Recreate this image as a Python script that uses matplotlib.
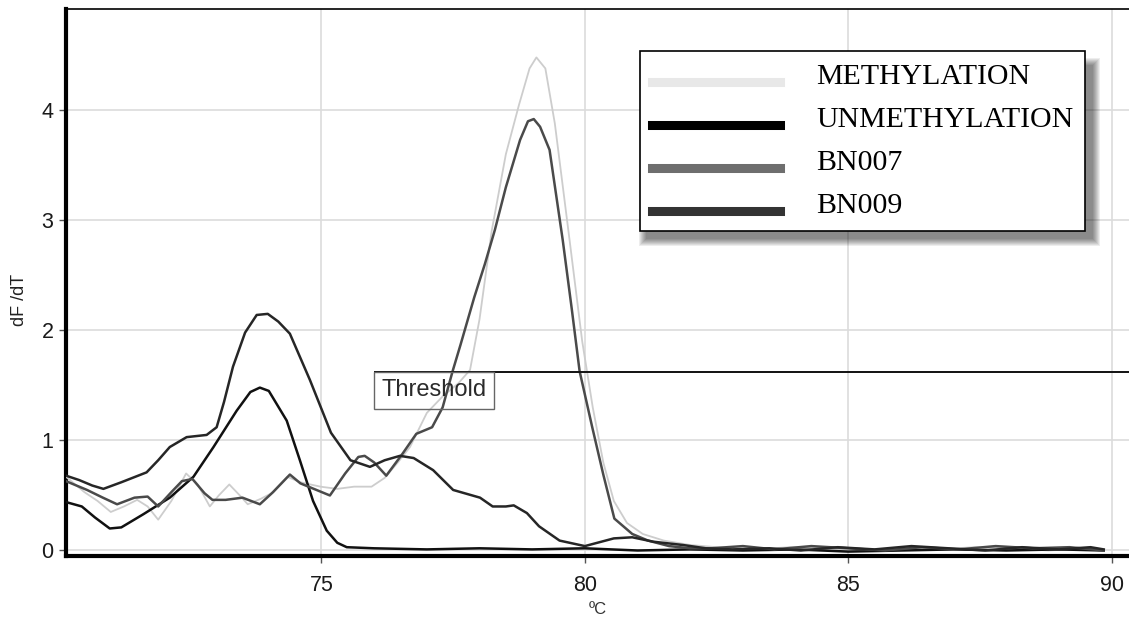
import matplotlib
matplotlib.use("Agg")
import matplotlib.pyplot as plt
from matplotlib.patches import Rectangle

plt.rcParams['font.family'] = ['Liberation Sans', 'DejaVu Sans']

# melt curves, temperature in deg C vs dF/dT
meth_t = [70.15, 70.5, 70.75, 71.0, 71.25, 71.5, 71.7, 71.9, 72.15, 72.43, 72.65, 72.88,
          73.05, 73.25, 73.45, 73.6, 73.85, 74.05, 74.35, 74.6, 74.98, 75.3, 75.62, 75.95,
          76.2, 76.45, 76.68, 77.0, 77.3, 77.6, 77.82, 78.0, 78.23, 78.5, 78.75, 78.95,
          79.08, 79.25, 79.43, 79.71, 79.95, 80.15, 80.35, 80.55, 80.8, 81.1, 81.5, 82.0,
          82.5, 83.2, 83.9, 84.6, 85.3, 86.0, 86.7, 87.4, 88.1, 88.8, 89.5, 89.85]
meth_v = [0.67, 0.53, 0.45, 0.35, 0.40, 0.46, 0.40, 0.28, 0.45, 0.70, 0.60, 0.40,
          0.50, 0.60, 0.50, 0.42, 0.47, 0.52, 0.67, 0.62, 0.58, 0.56, 0.58, 0.58,
          0.66, 0.80, 0.94, 1.25, 1.40, 1.52, 1.64, 2.10, 2.90, 3.60, 4.05, 4.38,
          4.48, 4.38, 3.88, 2.82, 1.90, 1.30, 0.80, 0.45, 0.25, 0.15, 0.09, 0.05,
          0.03, 0.01, 0.03, 0.02, 0.00, 0.02, 0.01, 0.03, 0.02, 0.00, 0.02, 0.01]

unmeth_t = [70.15, 70.45, 70.7, 70.98, 71.2, 71.62, 72.12, 72.57, 72.95, 73.39, 73.65,
            73.83, 74.0, 74.34, 74.59, 74.84, 75.1, 75.3, 75.48, 76.0, 77.0, 78.0, 79.0,
            80.0, 81.0, 82.0, 83.0, 84.0, 85.0, 86.0, 87.0, 88.0, 89.0, 89.85]
unmeth_v = [0.44, 0.40, 0.30, 0.20, 0.21, 0.33, 0.48, 0.67, 0.94, 1.27, 1.44,
            1.48, 1.45, 1.18, 0.82, 0.45, 0.18, 0.07, 0.03, 0.02, 0.01, 0.02, 0.01,
            0.02, 0.00, 0.01, 0.00, 0.01, -0.01, 0.00, 0.01, 0.00, 0.01, 0.00]

bn007_t = [70.15, 70.55, 70.85, 71.12, 71.45, 71.7, 71.9, 72.15, 72.35, 72.55, 72.78, 72.93,
           73.18, 73.5, 73.83, 74.08, 74.4, 74.6, 75.16, 75.45, 75.7, 75.82, 76.0, 76.23,
           76.54, 76.8, 77.1, 77.3, 77.49, 77.64, 77.9, 78.1, 78.29, 78.5, 78.77, 78.92,
           79.03, 79.15, 79.33, 79.58, 79.75, 79.9, 80.14, 80.35, 80.56, 80.9, 81.2, 81.6,
           82.0, 82.4, 83.0, 83.6, 84.3, 85.0, 85.7, 86.4, 87.1, 87.8, 88.5, 89.2, 89.85]
bn007_v = [0.63, 0.55, 0.48, 0.42, 0.48, 0.49, 0.40, 0.53, 0.63, 0.65, 0.52, 0.46,
           0.46, 0.48, 0.42, 0.53, 0.69, 0.61, 0.50, 0.70, 0.85, 0.86, 0.80, 0.68,
           0.88, 1.06, 1.12, 1.30, 1.63, 1.87, 2.30, 2.60, 2.91, 3.30, 3.73, 3.90,
           3.92, 3.85, 3.64, 2.82, 2.20, 1.63, 1.12, 0.69, 0.29, 0.15, 0.09, 0.04,
           0.02, 0.02, 0.04, 0.01, 0.04, 0.02, 0.00, 0.03, 0.01, 0.04, 0.02, 0.03, 0.00]

bn009_t = [70.15, 70.4, 70.65, 70.86, 71.2, 71.68, 71.9, 72.12, 72.44, 72.82, 73.01, 73.15,
           73.32, 73.55, 73.77, 73.98, 74.18, 74.4, 74.78, 75.18, 75.55, 75.92, 76.2, 76.49,
           76.75, 77.12, 77.5, 78.01, 78.25, 78.5, 78.65, 78.9, 79.13, 79.52, 80.0, 80.55,
           80.9, 81.3, 81.86, 82.3, 82.8, 83.5, 84.1, 84.8, 85.5, 86.2, 86.9, 87.6, 88.3,
           89.0, 89.6, 89.85]
bn009_v = [0.68, 0.64, 0.59, 0.56, 0.62, 0.71, 0.82, 0.94, 1.03, 1.05, 1.12, 1.35,
           1.67, 1.98, 2.14, 2.15, 2.08, 1.97, 1.55, 1.07, 0.82, 0.76, 0.82, 0.86,
           0.84, 0.73, 0.55, 0.48, 0.40, 0.40, 0.41, 0.34, 0.22, 0.09, 0.04, 0.11,
           0.12, 0.08, 0.05, 0.02, 0.01, 0.02, 0.00, 0.03, 0.01, 0.04, 0.02, 0.00, 0.03,
           0.01, 0.03, 0.01]

labels = ["METHYLATION", "UNMETHYLATION", "BN007", "BN009"]
line_colors = ["#cdcdcd", "#111111", "#4a4a4a", "#262626"]
legend_colors = ["#e8e8e8", "#000000", "#6e6e6e", "#333333"]

threshold = 1.625
threshold_start = 76.0

x_min, x_max = 70.15, 90.33
y_min, y_max = -0.05, 4.92

fig = plt.figure(figsize=(11.29, 6.2), dpi=100)
ax = fig.add_axes([66 / 1129, 64 / 620, 1063 / 1129, 547 / 620])

series = [(meth_t, meth_v), (unmeth_t, unmeth_v), (bn007_t, bn007_v), (bn009_t, bn009_v)]
for (t, v), lab, col in zip(series, labels, line_colors):
    lw = 1.3 if lab == "METHYLATION" else 1.8
    ax.plot(t, v, color=col, lw=lw, label=lab, zorder=3)

ax.hlines(threshold, threshold_start, x_max, color="#111111", lw=1.4, zorder=3)
ax.annotate("Threshold", xy=(threshold_start, threshold), xytext=(5.5, -5.5),
            textcoords="offset points", ha="left", va="top", fontsize=17, color="#2a2a2a",
            bbox=dict(boxstyle="square,pad=0.32", fc="none", ec="#666666", lw=1.0), zorder=4)

ax.set_xlim(x_min, x_max)
ax.set_ylim(y_min, y_max)
ax.set_xticks([75, 80, 85, 90])
ax.set_yticks([0, 1, 2, 3, 4])
ax.grid(True, color="#dcdcdc", lw=1.2)
ax.set_axisbelow(True)
ax.tick_params(axis="both", labelsize=15.5, labelcolor="#1a1a1a", color="#555555",
               length=5, width=1.0)
ax.tick_params(axis="x", pad=9)
ax.tick_params(axis="y", pad=4)

for side in ["left", "bottom"]:
    ax.spines[side].set_linewidth(3.0)
    ax.spines[side].set_color("black")
ax.spines["top"].set_linewidth(1.2)
ax.spines["right"].set_visible(False)

ax.set_ylabel("dF /dT", fontsize=13, color="#222222")
ax.yaxis.set_label_coords(-0.036, 0.468)
ax.set_xlabel("ºC", fontsize=12, color="#333333")
ax.xaxis.set_label_coords(0.5, -0.085)

leg = ax.legend(loc="upper left", bbox_to_anchor=(0.540, 0.923), borderaxespad=0,
                prop={"family": "Liberation Serif", "size": 21.5}, frameon=True,
                fancybox=False, framealpha=1, edgecolor="black",
                handlelength=4.3, handletextpad=1.2, labelspacing=0.54, borderpad=0.4)
leg.get_frame().set_linewidth(1.2)
leg.set_zorder(6)
for h, c in zip(leg.legend_handles, legend_colors):
    h.set_color(c)
    h.set_linewidth(6.5)
    # handles sit a little below the text in the original
    h.set_ydata([y - 6 for y in h.get_ydata()])

# soft shadow behind the legend box
fig.canvas.draw()
bb = leg.get_window_extent().transformed(ax.transAxes.inverted())
px_x = 1 / 1063
px_y = 1 / 547
for k in range(8):
    grow = 8 - k
    ax.add_patch(Rectangle((bb.x0 + (7 - grow) * px_x, bb.y0 - (7 + grow) * px_y),
                           bb.width + 2 * grow * px_x, bb.height + 2 * grow * px_y - 8 * px_y,
                           transform=ax.transAxes, fc="black", ec="none", alpha=0.07,
                           zorder=5.5))

fig.savefig("out.png", dpi=100)
